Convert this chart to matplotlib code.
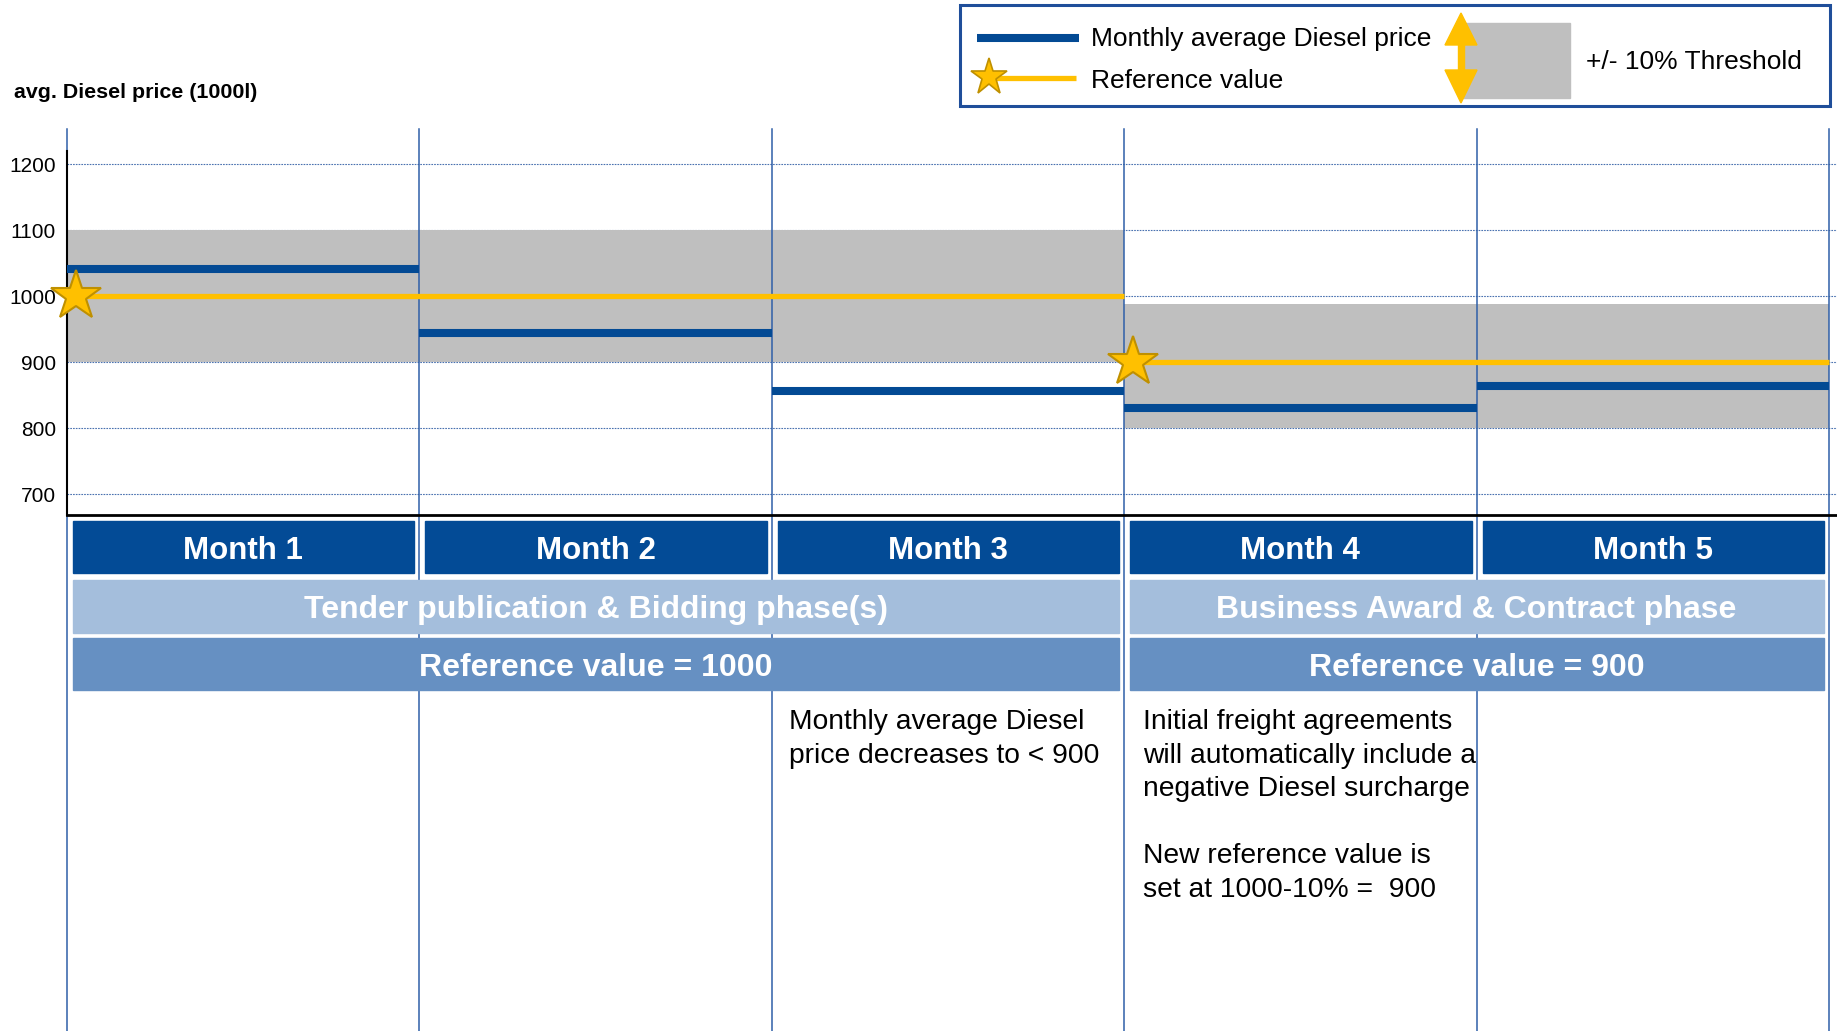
import numpy as np
import matplotlib.pyplot as plt
from matplotlib.patches import Rectangle, Polygon

plt.rcParams['font.family'] = ['Liberation Sans', 'DejaVu Sans']

# --- data ---
months = ["Month 1", "Month 2", "Month 3", "Month 4", "Month 5"]
diesel_price = [1042, 945, 856, 830, 864]

phase_names = ["Tender publication & Bidding phase(s)", "Business Award & Contract phase"]
phase_start = [0, 3]
phase_end = [3, 5]
ref_values = [1000, 900]
band_low = [900, 800]
band_high = [1100, 988]
ref_labels = ["Reference value = 1000", "Reference value = 900"]

yticks = [700, 800, 900, 1000, 1100, 1200]

note_month3 = "Monthly average Diesel\nprice decreases to < 900"
note_month4 = ("Initial freight agreements\nwill automatically include a\n"
               "negative Diesel surcharge\n\nNew reference value is\nset at 1000-10% =  900")

# colours
DARK = '#034b96'
LIGHT = '#a4bedc'
MID = '#6690c2'
GOLD = '#ffc000'
GOLD_EDGE = '#bf9000'
GREY = '#bfbfbf'
VLINE = '#2f5fa8'

W, H = 1837, 1031
fig = plt.figure(figsize=(W / 100, H / 100), dpi=100)

X0, P = 67, 352.4          # pixel of month 0, pixels per month
CH_TOP, CH_BOT = 151, 515  # chart area in pixels

ax = fig.add_axes([X0 / W, 1 - CH_BOT / H, 1 - X0 / W, (CH_BOT - CH_TOP) / H])
ax.set_xlim(0, (W - X0) / P)
ax.set_ylim(668.6, 1220)
ax.set_yticks(yticks)
ax.set_xticks([])
ax.tick_params(axis='y', length=0, labelsize=15, pad=8)
ax.yaxis.grid(True, color='#4a72b0', lw=0.8, ls=(0, (1.5, 1)))
ax.set_axisbelow(True)
for s in ['top', 'right']:
    ax.spines[s].set_visible(False)
ax.spines['left'].set_linewidth(1.5)
ax.spines['bottom'].set_linewidth(2)
ax.patch.set_alpha(0)

# threshold bands
for s, e, lo, hi in zip(phase_start, phase_end, band_low, band_high):
    ax.fill_between([s, e], [lo, lo], [hi, hi], color=GREY, lw=0, zorder=1)

# month separators, running down through the whole slide
ymax = (CH_BOT - 129) / (CH_BOT - CH_TOP)
ymin = (CH_BOT - H) / (CH_BOT - CH_TOP)
for i in range(len(months) + 1):
    ax.axvline(i, ymin=ymin, ymax=ymax, color=VLINE, lw=1.1, clip_on=False, zorder=1.5)

# monthly prices and reference values
x = np.arange(len(months))
ax.hlines(diesel_price, x, x + 1, color='#034a94', lw=5.8, capstyle='butt', zorder=3)
star_x = [s + 0.025 for s in phase_start]
ax.hlines(ref_values, phase_start, phase_end, color=GOLD, lw=3.8, capstyle='butt', zorder=3)
ax.plot(star_x, ref_values, ls='none', marker='*', ms=38, mfc=GOLD, mec=GOLD_EDGE,
        mew=1.5, zorder=5, clip_on=False)

# --- layout layer in pixels ---
lay = fig.add_axes([0, 0, 1, 1], zorder=3)
lay.set_xlim(0, W)
lay.set_ylim(H, 0)
lay.axis('off')

for i, m in enumerate(months):
    left = X0 + i * P
    lay.add_patch(Rectangle((left + 6, 521), P - 11, 52, color=DARK))
    lay.text(left + P / 2, 551, m, color='white', fontsize=22.5, weight='bold',
             ha='center', va='center')

for s, e, name, lab in zip(phase_start, phase_end, phase_names, ref_labels):
    left = X0 + s * P
    wid = (e - s) * P
    lay.add_patch(Rectangle((left + 6, 580), wid - 11, 53, color=LIGHT))
    lay.text(left + wid / 2, 610, name, color='white', fontsize=23, weight='bold',
             ha='center', va='center')
    lay.add_patch(Rectangle((left + 6, 638), wid - 11, 52, color=MID))
    lay.text(left + wid / 2, 668, lab, color='white', fontsize=23, weight='bold',
             ha='center', va='center')

lay.text(X0 + 2 * P + 17, 709, note_month3, fontsize=20.3, va='top', linespacing=1.38)
lay.text(X0 + 3 * P + 19, 709, note_month4, fontsize=20.3, va='top', linespacing=1.38)

lay.text(14, 92, 'avg. Diesel price (1000l)', fontsize=15.4, weight='bold', va='center')

# legend box
lay.add_patch(Rectangle((960, 5), 870, 101, fill=False, ec='#1f4e9a', lw=2.2))
lay.plot([977, 1079], [38, 38], color='#034a94', lw=5.8, solid_capstyle='butt')
lay.text(1091, 39, 'Monthly average Diesel price', fontsize=19, va='center')
lay.plot([989, 1076], [78, 78], color=GOLD, lw=3.8, solid_capstyle='butt')
lay.plot(989, 77, marker='*', ms=28, mfc=GOLD, mec=GOLD_EDGE, mew=1.2)
lay.text(1091, 81, 'Reference value', fontsize=19, va='center')
lay.add_patch(Rectangle((1462, 23), 108, 75, color=GREY))
lay.add_patch(Polygon([(1445, 45), (1477, 45), (1461, 13)], color=GOLD))
lay.add_patch(Rectangle((1458, 44), 6, 27, color=GOLD))
lay.add_patch(Polygon([(1445, 70), (1477, 70), (1461, 103)], color=GOLD))
lay.text(1586, 62, '+/- 10% Threshold', fontsize=19, va='center')

fig.savefig('out.png', dpi=100)
